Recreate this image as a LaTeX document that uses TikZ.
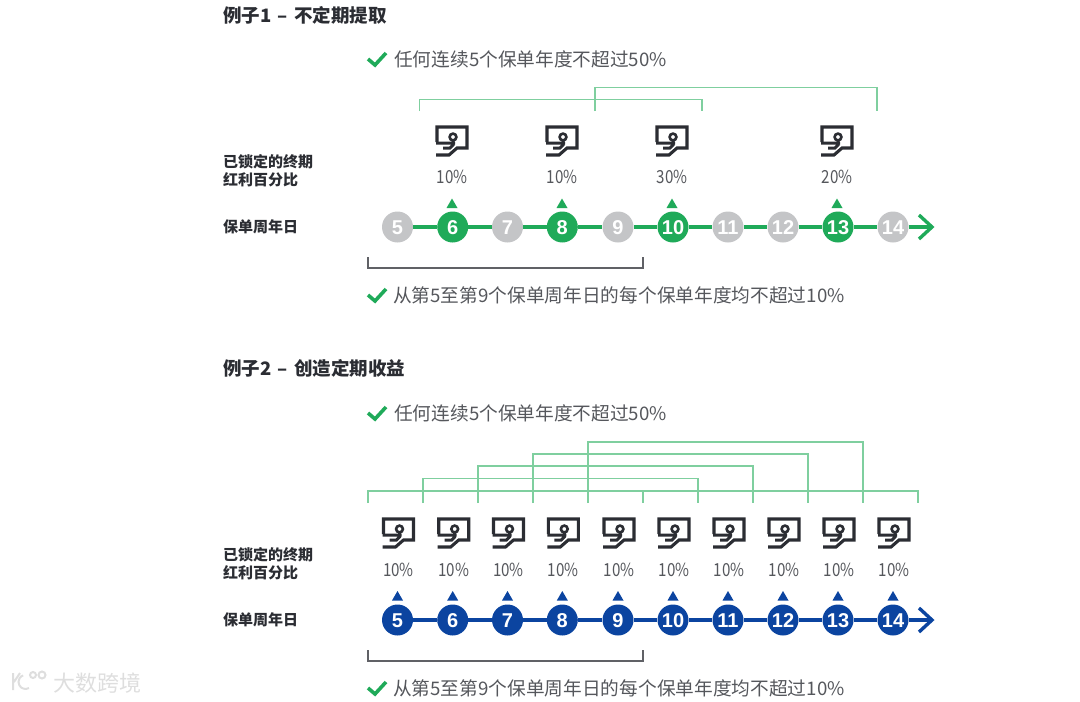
\documentclass[tikz,border=0pt]{standalone}
\usepackage{fontspec}
\setmainfont{Noto Sans CJK SC}
\newfontfamily\dotfont{Liberation Sans}
\newfontfamily\pctfont[FakeStretch=0.84]{Noto Sans CJK SC}
\usetikzlibrary{positioning}
\definecolor{ink}{HTML}{2B2D33}
\definecolor{pctgrey}{HTML}{55575C}
\definecolor{offgrey}{HTML}{C4C5C7}
\definecolor{safe}{HTML}{1FAA59}
\definecolor{spangreen}{HTML}{7FCF9F}
\definecolor{navy}{HTML}{0B44A0}
\definecolor{wmgrey}{HTML}{DEDEDE}
\tikzset{
 heading/.style={anchor=west,font=\fontsize{18.5}{20}\selectfont\bfseries,text=ink,inner sep=0pt},
 sidelabel/.style={anchor=west,align=left,font=\fontsize{15}{18}\selectfont\bfseries,text=ink,inner sep=0pt},
 ruletext/.style={anchor=west,font=\fontsize{18.7}{20}\selectfont,text=pctgrey,inner sep=0pt},
 pct/.style={font=\pctfont\fontsize{18}{20}\selectfont,text=pctgrey,inner sep=0pt},
 yeardot/.style={circle,fill=#1,minimum size=31pt,inner sep=0pt,text=white,text height=14pt,text depth=0pt,font=\dotfont\fontsize{20}{20}\selectfont\bfseries},
 uptick/.style={fill=#1,draw=none},
 spanline/.style={spangreen,line width=1.4pt},
 greyspan/.style={ink!75,line width=1.1pt},
 axisline/.style={line width=3.4pt},
 pics/payicon/.style={code={
  \draw[ink,line width=3.1pt,line join=miter] (-15,1) -- (-15,-14) -- (15,-14) -- (15,7) -- (5,7) -- (-3,14) -- (-16,14);
  \draw[ink,line width=3pt] (-16,2) -- (3,2) (1,0) -- (1,4) -- (-2,7) -- (-9,7);
  \draw[ink,line width=2.6pt] (1,-4) circle (3.4);
 }},
 pics/okmark/.style={code={
  \draw[safe,line width=3.6pt] (-9,0) -- (-2,6) -- (9,-6);
 }},
}
\begin{document}
\begin{tikzpicture}[x=1pt,y=-1pt]
\useasboundingbox (0,0) rectangle (1080,702);
% watermark
\node[anchor=west,inner sep=0pt,text=wmgrey,font=\fontsize{22}{24}\selectfont] (markname) at (53,683) {大数跨境};
\draw[wmgrey,line width=2pt] (13,673) -- (13,690) (20,673) -- (14,682);
\draw[wmgrey,line width=2pt] (29,688) arc (60:250:7) (33,675) circle (3) (42,675) circle (3.5);
% example 1
\node[heading] (titleA) at (223,15) {例子1\hspace{2pt} – \hspace{2pt}不定期提取};
\pic at (377,59) {okmark};
\node[ruletext] (ruleA) at (394,59) {任何连续5个保单年度不超过50\%};
\draw[spanline] (419.5,111) -- (419.5,99.5) -- (702,99.5) -- (702,111);
\draw[spanline] (595,111) -- (595,87.5) -- (877,87.5) -- (877,111);
\node[sidelabel] (lockA) at (223,171) {已锁定的终期\\红利百分比};
\node[sidelabel] (dayA) at (223,227) {保单周年日};
\foreach \x/\n/\c in {397.5/5/offgrey,452.7/6/safe,507.5/7/offgrey,562.3/8/safe,618/9/offgrey,673/10/safe,728/11/offgrey,783/12/offgrey,838/13/safe,893/14/offgrey}
 \node[yeardot=\c] (a\n) at (\x,227) {\n};
\coordinate (aend) at (932,227);
\foreach \p/\q in {5/6,6/7,7/8,8/9,9/10,10/11,11/12,12/13,13/14}
 \draw[safe,axisline] (a\p) -- (a\q);
\draw[safe,axisline] (a14) -- (aend);
\draw[safe,axisline] (919,215) -- (aend) -- (919,239);
\foreach \x/\v in {452/10,562/10,672/30,837/20} {
 \pic at (\x,141) {payicon};
 \node[pct] at (\x,176.5) {\v\%};
 \fill[uptick=safe] (\x-5.5,208) -- (\x,198.5) -- (\x+5.5,208) -- cycle;
}
\draw[greyspan] (368,257) -- (368,268) -- (643,268) -- (643,257);
\pic at (377,295) {okmark};
\node[ruletext] (safeA) at (393,295) {从第5至第9个保单周年日的每个保单年度均不超过10\%};
% example 2
\node[heading] (titleB) at (223,368) {例子2\hspace{2pt} – \hspace{2pt}创造定期收益};
\pic at (377,413) {okmark};
\node[ruletext] (ruleB) at (394,413) {任何连续5个保单年度不超过50\%};
\draw[spanline] (368,503) -- (368,491) -- (643,491) -- (643,503);
\draw[spanline] (643,491) -- (918,491) -- (918,503);
\draw[spanline] (423,503) -- (423,478.5) -- (698,478.5) -- (698,503);
\draw[spanline] (478,503) -- (478,466) -- (753,466) -- (753,503);
\draw[spanline] (533,503) -- (533,454) -- (808,454) -- (808,503);
\draw[spanline] (588,503) -- (588,442) -- (863,442) -- (863,503);
\node[sidelabel] (lockB) at (223,564) {已锁定的终期\\红利百分比};
\node[sidelabel] (dayB) at (223,620) {保单周年日};
\foreach \x/\n in {397.5/5,452.7/6,507.5/7,562.3/8,618/9,673/10,728/11,783/12,838/13,893/14} {
 \node[yeardot=navy] (b\n) at (\x,620) {\n};
 \pic at (\x+1,533) {payicon};
 \node[pct] at (\x+1,569.5) {10\%};
 \fill[uptick=navy] (\x-5.5,600.5) -- (\x,591) -- (\x+5.5,600.5) -- cycle;
}
\coordinate (bend) at (932,620);
\foreach \p/\q in {5/6,6/7,7/8,8/9,9/10,10/11,11/12,12/13,13/14}
 \draw[navy,axisline] (b\p) -- (b\q);
\draw[navy,axisline] (b14) -- (bend);
\draw[navy,axisline] (919,608) -- (bend) -- (919,632);
\draw[greyspan] (368,650) -- (368,661) -- (643,661) -- (643,650);
\pic at (377,688) {okmark};
\node[ruletext] (safeB) at (393,688) {从第5至第9个保单周年日的每个保单年度均不超过10\%};
\end{tikzpicture}
\end{document}
